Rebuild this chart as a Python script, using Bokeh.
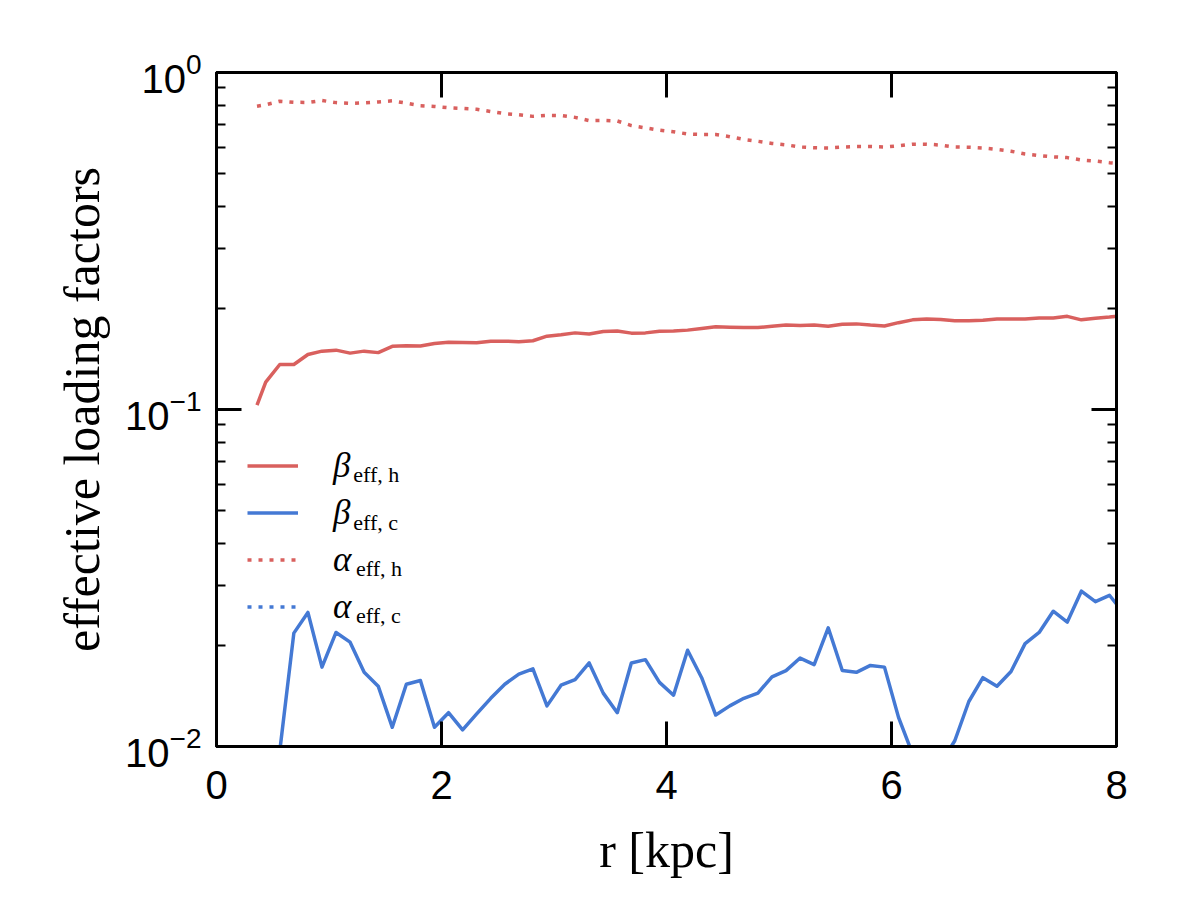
from bokeh.plotting import figure
from bokeh.models import (FixedTicker, LinearAxis, LogAxis, Legend, LegendItem,
                          Label, Range1d)
from bokeh.core.properties import value
from bokeh.embed import file_html
from bokeh.resources import INLINE

# ---------------- data ----------------
r = [0.36, 0.4375, 0.5625, 0.6875, 0.8125, 0.9375, 1.0625, 1.1875, 1.3125,
     1.4375, 1.5625, 1.6875, 1.8125, 1.9375, 2.0625, 2.1875, 2.3125, 2.4375,
     2.5625, 2.6875, 2.8125, 2.9375, 3.0625, 3.1875, 3.3125, 3.4375, 3.5625,
     3.6875, 3.8125, 3.9375, 4.0625, 4.1875, 4.3125, 4.4375, 4.5625, 4.6875,
     4.8125, 4.9375, 5.0625, 5.1875, 5.3125, 5.4375, 5.5625, 5.6875, 5.8125,
     5.9375, 6.0625, 6.1875, 6.3125, 6.4375, 6.5625, 6.6875, 6.8125, 6.9375,
     7.0625, 7.1875, 7.3125, 7.4375, 7.5625, 7.6875, 7.8125, 7.9375, 8.0625]

beta_h = [0.103, 0.1205, 0.136, 0.136, 0.1456, 0.149, 0.150, 0.147, 0.149,
          0.1475, 0.154, 0.1545, 0.1543, 0.157, 0.1583, 0.158, 0.1577, 0.1595,
          0.1595, 0.159, 0.160, 0.165, 0.1666, 0.1688, 0.1675, 0.1704, 0.171,
          0.1685, 0.1688, 0.1707, 0.171, 0.172, 0.174, 0.176, 0.1755, 0.1752,
          0.175, 0.1765, 0.178, 0.1775, 0.178, 0.1765, 0.179, 0.1795, 0.178,
          0.177, 0.181, 0.1845, 0.1855, 0.185, 0.1835, 0.1835, 0.184, 0.1855,
          0.1855, 0.1855, 0.187, 0.187, 0.189, 0.1845, 0.1865, 0.188, 0.190]

beta_c = [0.004, 0.006, 0.0097, 0.0217, 0.0250, 0.0172, 0.0218, 0.0204, 0.0166,
          0.0151, 0.0114, 0.0153, 0.0157, 0.0114, 0.0126, 0.0112, 0.0125, 0.0139,
          0.0153, 0.0164, 0.0170, 0.0132, 0.0152, 0.0158, 0.0177, 0.0144, 0.0126,
          0.0177, 0.0181, 0.0155, 0.0142, 0.0193, 0.0160, 0.0124, 0.0132, 0.0139,
          0.0144, 0.0161, 0.0168, 0.0183, 0.0175, 0.0225, 0.0168, 0.0166, 0.0174,
          0.0172, 0.0122, 0.0095, 0.0085, 0.0089, 0.0104, 0.0136, 0.0160, 0.0151,
          0.0167, 0.0202, 0.0218, 0.0252, 0.0234, 0.0289, 0.0269, 0.0281, 0.0249]

alpha_h = [0.794, 0.802, 0.822, 0.816, 0.815, 0.826, 0.814, 0.810, 0.813,
           0.818, 0.824, 0.811, 0.797, 0.793, 0.786, 0.782, 0.778, 0.766,
           0.755, 0.749, 0.741, 0.746, 0.745, 0.736, 0.720, 0.721, 0.718,
           0.696, 0.685, 0.674, 0.667, 0.657, 0.655, 0.655, 0.645, 0.633,
           0.625, 0.616, 0.610, 0.601, 0.598, 0.597, 0.601, 0.603, 0.603,
           0.601, 0.606, 0.613, 0.613, 0.609, 0.601, 0.600, 0.597, 0.591,
           0.584, 0.573, 0.567, 0.562, 0.559, 0.550, 0.546, 0.540, 0.535]

# alpha_eff,c lies entirely below the plotted range (not visible in the reference)
alpha_c = [0.003, 0.003, 0.004, 0.005, 0.005, 0.004, 0.005, 0.005, 0.004,
           0.004, 0.003, 0.004, 0.004, 0.003, 0.003, 0.003, 0.003, 0.004,
           0.004, 0.004, 0.004, 0.003, 0.004, 0.004, 0.004, 0.004, 0.003,
           0.004, 0.004, 0.004, 0.004, 0.005, 0.004, 0.003, 0.003, 0.004,
           0.004, 0.004, 0.004, 0.005, 0.004, 0.005, 0.004, 0.004, 0.004,
           0.004, 0.003, 0.002, 0.002, 0.002, 0.003, 0.003, 0.004, 0.004,
           0.004, 0.005, 0.005, 0.006, 0.005, 0.006, 0.006, 0.006, 0.006]

x_ticks = [0, 2, 4, 6, 8]
y_major_ticks = [0.01, 0.1, 1.0]
y_minor_ticks = [0.02, 0.03, 0.04, 0.05, 0.06, 0.07, 0.08, 0.09,
                 0.2, 0.3, 0.4, 0.5, 0.6, 0.7, 0.8, 0.9]

legend_symbols = ["β", "β", "α", "α"]
legend_subscripts = ["eff, h", "eff, c", "eff, h", "eff, c"]

# ---------------- styling ----------------
RED = "#d9605e"
BLUE = "#4479d4"
LW = 3.5
DOT = "4 7"
TICK_FONT = "Liberation Sans"
LABEL_FONT = "Liberation Serif"

p = figure(width=1184, height=884,
           x_range=Range1d(0, 8), y_range=Range1d(0.01, 1.0),
           y_axis_type="log",
           output_backend="svg", toolbar_location=None,
           min_border_left=216, min_border_right=68,
           min_border_top=72, min_border_bottom=138)
p.xgrid.visible = False
p.ygrid.visible = False
p.outline_line_color = "black"
p.outline_line_width = 3
p.background_fill_color = "white"
p.border_fill_color = "white"

l_bh = p.line(r, beta_h, line_color=RED, line_width=LW, line_join="round")
l_bc = p.line(r, beta_c, line_color=BLUE, line_width=LW, line_join="round")
l_ah = p.line(r, alpha_h, line_color=RED, line_width=LW, line_dash=DOT)
l_ac = p.line(r, alpha_c, line_color=BLUE, line_width=LW, line_dash=DOT)


def style_axis(ax, show_labels):
    ax.axis_line_width = 3
    ax.axis_line_color = "black"
    ax.major_tick_line_width = 3
    ax.minor_tick_line_width = 2
    ax.major_tick_out = 0
    ax.minor_tick_out = 0
    ax.major_label_text_font = TICK_FONT
    if show_labels:
        ax.major_label_text_color = "black"
        ax.major_label_text_font_size = "40px"
        ax.major_label_standoff = 24
    else:
        ax.major_label_text_color = None
        ax.major_label_text_font_size = "1px"
        ax.major_label_standoff = 0


# bottom x axis
xa = p.xaxis[0]
xa.ticker = FixedTicker(ticks=x_ticks, minor_ticks=[])
style_axis(xa, True)
xa.major_tick_in = 25
xa.minor_tick_in = 0
xa.axis_label = "r [kpc]"
xa.axis_label_text_font = LABEL_FONT
xa.axis_label_text_font_style = "normal"
xa.axis_label_text_font_size = "50px"
xa.axis_label_text_color = "black"
xa.axis_label_standoff = 20

# left y axis
ya = p.yaxis[0]
ya.ticker = FixedTicker(ticks=y_major_ticks, minor_ticks=y_minor_ticks)
style_axis(ya, True)
ya.major_label_standoff = 15
ya.major_tick_in = 25
ya.minor_tick_in = 9
ya.axis_label = "effective loading factors"
ya.axis_label_text_font = LABEL_FONT
ya.axis_label_text_font_style = "normal"
ya.axis_label_text_font_size = "50px"
ya.axis_label_text_color = "black"
ya.axis_label_standoff = 12

# top and right mirror axes (ticks only)
top = LinearAxis(ticker=FixedTicker(ticks=x_ticks, minor_ticks=[]))
style_axis(top, False)
top.major_tick_in = 25
top.minor_tick_in = 0
p.add_layout(top, "above")

right = LogAxis(ticker=FixedTicker(ticks=y_major_ticks, minor_ticks=y_minor_ticks))
style_axis(right, False)
right.major_tick_in = 25
right.minor_tick_in = 9
p.add_layout(right, "right")

# legend (line samples + main symbol)
items = [LegendItem(label=value(s), renderers=[rd])
         for s, rd in zip(legend_symbols, [l_bh, l_bc, l_ah, l_ac])]
legend = Legend(items=items, location=(31, 116),
                glyph_width=51, glyph_height=47, label_height=47,
                spacing=0, label_standoff=35, padding=0, margin=0,
                border_line_alpha=0, background_fill_alpha=0,
                label_text_font=LABEL_FONT, label_text_font_style="italic",
                label_text_font_size="35px", label_text_color="black")
p.add_layout(legend)

# subscripts of the legend symbols
sub_x = [1.215, 1.215, 1.24, 1.24]
sub_y = [0.0640, 0.0461, 0.0337, 0.0244]
for sx, sy, txt in zip(sub_x, sub_y, legend_subscripts):
    p.add_layout(Label(x=sx, y=sy, text=txt, text_font=LABEL_FONT,
                       text_font_size="22px", text_baseline="alphabetic",
                       text_color="black"))

open("out.html", "w").write(file_html(p, INLINE))
